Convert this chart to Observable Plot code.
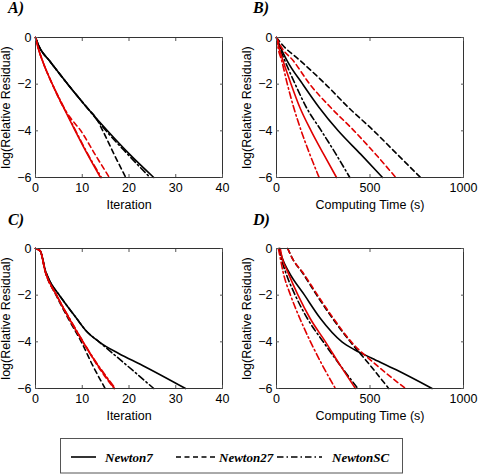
<!DOCTYPE html>
<html><head><meta charset="utf-8">
<script src="https://cdn.jsdelivr.net/npm/d3@7"></script>
<script src="https://cdn.jsdelivr.net/npm/@observablehq/plot@0.6"></script>
<style>
body{margin:0;background:#fff;}
#root{position:relative;width:480px;height:474px;overflow:hidden;}
.panel{position:absolute;}
#overlay{position:absolute;left:0;top:0;}
</style></head><body><div id="root"></div>
<script>
// ---------- data ----------
const seriesNames = ["Newton7", "Newton27", "NewtonSC"];
const panelTags = ["A)", "B)", "C)", "D)"];
const iterTicks = [0, 10, 20, 30, 40];
const timeTicks = [0, 500, 1000];
const yTicks = [0, -2, -4, -6];

// Panel A (x: iteration) — [x, log residual]
const A_black_Newton7  = [[0,0],[0.8,-0.4],[3,-1],[6.9,-2],[11,-3],[15.4,-4],[20.1,-5],[25.3,-6]];
const A_black_Newton27 = [[0,0],[0.8,-0.4],[3,-1],[6.9,-2],[11,-3],[13.1,-3.5],[14.4,-4],[16.8,-5],[19.3,-6]];
const A_black_NewtonSC = [[0,0],[0.8,-0.4],[3,-1],[6.9,-2],[11,-3],[15.1,-4],[19.7,-5],[24.5,-6]];
const A_red_Newton7    = [[0,0],[0.5,-0.4],[1.5,-1],[3.6,-2],[6,-3],[8.5,-4],[11.1,-5],[13.9,-6]];
const A_red_Newton27   = [[0,0],[0.5,-0.4],[1.5,-1],[3.6,-2],[6,-3],[7.7,-3.5],[9.7,-4],[12.7,-5],[15.8,-6]];
const A_red_NewtonSC   = [[0,0],[0.5,-0.4],[1.5,-1],[3.6,-2],[6.1,-3],[8.6,-4],[11.2,-5],[14.1,-6]];

// Panel B (x: computing time, s)
const B_black_Newton7  = [[0,0],[20,-0.4],[57,-1],[140,-2],[228,-3],[330,-4],[450,-5],[567,-6]];
const B_black_Newton27 = [[0,0],[30,-0.3],[128,-1],[262,-2],[385,-3],[520,-4],[645,-5],[770,-6]];
const B_black_NewtonSC = [[0,0],[15,-0.4],[45,-1],[100,-2],[160,-3],[240,-4],[318,-5],[392,-6]];
const B_red_Newton7    = [[0,0],[12,-0.4],[35,-1],[78,-2],[125,-3],[185,-4],[252,-5],[321,-6]];
const B_red_Newton27   = [[0,0],[25,-0.4],[90,-1],[178,-2],[290,-3],[415,-4],[530,-5],[638,-6]];
const B_red_NewtonSC   = [[0,0],[10,-0.5],[28,-1],[58,-2],[92,-3],[132,-4],[178,-5],[228,-6]];

// Panel C (x: iteration)
const C_black_Newton7  = [[0,0],[1,-0.1],[2.2,-1],[3.2,-1.45],[5.1,-2],[8.8,-3],[10.7,-3.5],[13.6,-4],[17.8,-4.5],[22.8,-5],[32.1,-6]];
const C_black_Newton27 = [[0,0],[1,-0.1],[2.1,-1],[4.4,-2],[7,-3],[9.8,-4],[12.2,-5],[14.9,-6]];
const C_black_NewtonSC = [[0,0],[1,-0.1],[2.2,-1],[3.2,-1.45],[5.1,-2],[8.8,-3],[10.7,-3.5],[13.6,-4],[19.5,-5],[25.3,-6]];
const C_red_Newton7    = [[0,0],[1,-0.1],[2.1,-1],[4.5,-2],[7.2,-3],[10.1,-4],[13.3,-5],[16.9,-6]];
const C_red_Newton27   = [[0,0],[1,-0.1],[2.1,-1],[4.5,-2],[7.2,-3],[10.2,-4],[13.2,-5],[16.8,-6]];
const C_red_NewtonSC   = [[0,0],[1,-0.1],[2.1,-1],[4.5,-2],[7.3,-3],[10.2,-4],[13.4,-5],[17.1,-6]];

// Panel D (x: computing time, s)
const D_black_Newton7  = [[15,0],[30,-0.4],[66,-1],[150,-2],[235,-3],[350,-4],[420,-4.35],[510,-4.7],[640,-5.2],[832,-6]];
const D_black_Newton27 = [[60,0],[90,-0.5],[135,-1],[215,-2],[300,-3],[395,-4],[500,-5],[600,-6]];
const D_black_NewtonSC = [[15,0],[25,-0.4],[48,-1],[100,-2],[165,-3],[250,-4],[340,-5],[435,-6]];
const D_red_Newton7    = [[20,0],[30,-0.4],[60,-1],[115,-2],[180,-3],[262,-4],[340,-5],[422,-6]];
const D_red_Newton27   = [[60,0],[90,-0.5],[138,-1],[220,-2],[305,-3],[400,-4],[535,-5],[690,-6]];
const D_red_NewtonSC   = [[10,0],[20,-0.4],[35,-1],[75,-2],[125,-3],[182,-4],[245,-5],[315,-6]];

// ---------- styling ----------
const dashFor = {Newton7: null, Newton27: "5,3.5", NewtonSC: "6.5,3,1.5,3"};
const colorFor = {black: "#000", red: "#e00000"};

const panels = [
  {tag: panelTags[0], left: 0,   top: 25,  domain: [0, 40],   ticks: iterTicks, label: "Iteration",
   lines: {black: [A_black_Newton7, A_black_Newton27, A_black_NewtonSC], red: [A_red_Newton7, A_red_Newton27, A_red_NewtonSC]}},
  {tag: panelTags[1], left: 241, top: 25,  domain: [0, 1000], ticks: timeTicks, label: "Computing Time (s)",
   lines: {black: [B_black_Newton7, B_black_Newton27, B_black_NewtonSC], red: [B_red_Newton7, B_red_Newton27, B_red_NewtonSC]}},
  {tag: panelTags[2], left: 0,   top: 236, domain: [0, 40],   ticks: iterTicks, label: "Iteration",
   lines: {black: [C_black_Newton7, C_black_Newton27, C_black_NewtonSC], red: [C_red_Newton7, C_red_Newton27, C_red_NewtonSC]}},
  {tag: panelTags[3], left: 241, top: 236, domain: [0, 1000], ticks: timeTicks, label: "Computing Time (s)",
   lines: {black: [D_black_Newton7, D_black_Newton27, D_black_NewtonSC], red: [D_red_Newton7, D_red_Newton27, D_red_NewtonSC]}}
];

const root = document.getElementById("root");
const sans = "'Liberation Sans', Arial, Helvetica, sans-serif";
const serif = "'Liberation Serif', 'Times New Roman', serif";

for (const p of panels) {
  const lineMarks = [];
  for (const col of ["black", "red"]) {
    p.lines[col].forEach((pts, i) => {
      const name = seriesNames[i];
      const rows = pts.map(([x, y]) => ({x, y}));
      lineMarks.push(Plot.line(rows, {
        x: "x", y: "y", curve: "monotone-x",
        stroke: colorFor[col], strokeWidth: 1.6,
        strokeDasharray: dashFor[name] || undefined
      }));
    });
  }
  const chart = Plot.plot({
    width: 240, height: 190,
    marginLeft: 35, marginRight: 18, marginTop: 12, marginBottom: 38,
    x: {domain: p.domain},
    y: {domain: [-6, 0]},
    style: {fontSize: "12.5px", fontFamily: sans, color: "#000", background: "transparent", overflow: "visible"},
    marks: [
      ...lineMarks,
      Plot.frame({stroke: "#333", strokeWidth: 1}),
      Plot.axisX(p.ticks, {anchor: "bottom", tickSize: -3, tickPadding: 9, stroke: "#555",
        tickFormat: d => String(d),
        label: p.label, labelAnchor: "center", labelArrow: "none", labelOffset: 31}),
      Plot.axisX(p.ticks, {anchor: "top", tickSize: -3, tickFormat: () => "", stroke: "#555", label: null}),
      Plot.axisY(yTicks, {anchor: "left", tickSize: -3, tickPadding: 7, stroke: "#555",
        label: "log(Relative Residual)", labelAnchor: "center", labelArrow: "none", labelOffset: 34}),
      Plot.axisY(yTicks, {anchor: "right", tickSize: -3, tickFormat: () => "", stroke: "#555", label: null})
    ]
  });
  chart.classList.add("panel");
  chart.style.left = p.left + "px";
  chart.style.top = p.top + "px";
  root.appendChild(chart);
}

// overlay: panel tags + legend
const ns = "http://www.w3.org/2000/svg";
const ov = document.createElementNS(ns, "svg");
ov.setAttribute("id", "overlay");
ov.setAttribute("width", 480); ov.setAttribute("height", 474);
root.appendChild(ov);
function el(name, attrs, text) {
  const e = document.createElementNS(ns, name);
  for (const k in attrs) e.setAttribute(k, attrs[k]);
  if (text != null) e.textContent = text;
  ov.appendChild(e);
  return e;
}
const tagPos = [[8, 13], [253, 13], [8, 225], [253, 225]];
panelTags.forEach((t, i) => el("text", {x: tagPos[i][0], y: tagPos[i][1], "font-family": serif,
  "font-weight": "bold", "font-style": "italic", "font-size": 16, fill: "#000"}, t));

el("rect", {x: 60.5, y: 438.5, width: 342, height: 34.5, fill: "none", stroke: "#555", "stroke-width": 1});
const legLine = [[71, 96], [176, 215], [277, 322]];
const legText = [105, 219, 332];
seriesNames.forEach((name, i) => {
  el("line", {x1: legLine[i][0], x2: legLine[i][1], y1: 457, y2: 457, stroke: "#000", "stroke-width": 1.6,
    "stroke-dasharray": dashFor[name] || "none"});
  el("text", {x: legText[i], y: 461.5, "font-family": serif, "font-weight": "bold", "font-style": "italic",
    "font-size": 13, fill: "#000"}, name);
});
</script></body></html>
